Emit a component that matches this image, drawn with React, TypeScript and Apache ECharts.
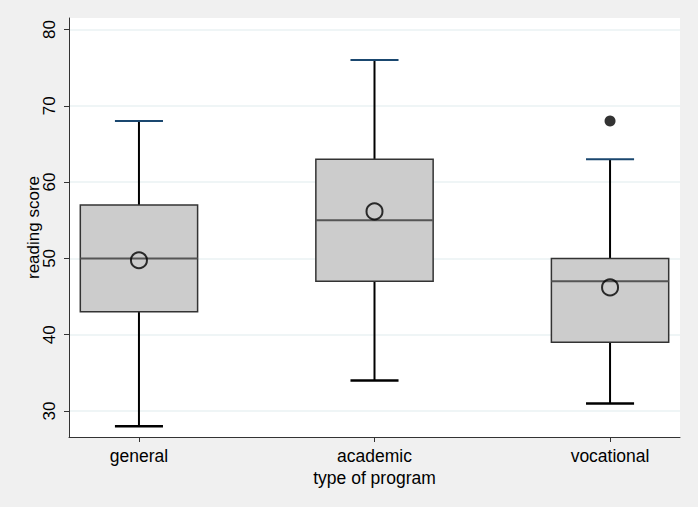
import React, { useEffect, useRef } from "react";
import * as echarts from "echarts";

const categories = ["general", "academic", "vocational"];
// [min, q1, median, q3, max]
const boxValues = [
  [28, 43, 50, 57, 68],
  [34, 47, 55, 63, 76],
  [31, 39, 47, 50, 63],
];
const means = [49.76, 56.16, 46.2];
const outliers = [[3, 68]];
const yTicks = [30, 40, 50, 60, 70, 80];

export default function App() {
  const ref = useRef<HTMLDivElement>(null);
  useEffect(() => {
    if (!ref.current) return;
    const chart = echarts.init(ref.current, null, { renderer: "svg" });
    const font = "'Liberation Sans', Arial, sans-serif";
    const boxData = boxValues.map((b, i) => [i + 1, ...b]);
    const meanData = means.map((m, i) => [i + 1, m]);
    chart.setOption({
      animation: false,
      backgroundColor: "#f0f0f0",
      textStyle: { fontFamily: font },
      grid: {
        left: 69,
        right: 18,
        top: 18,
        bottom: 70,
        show: true,
        backgroundColor: "#ffffff",
        borderWidth: 0,
      },
      xAxis: {
        type: "value",
        min: 0.703,
        max: 3.297,
        name: "type of program",
        nameLocation: "middle",
        nameGap: 32,
        nameMoveOverlap: false,
        nameTextStyle: { color: "#000", fontSize: 17.5, lineHeight: 18, fontFamily: font },
        axisLine: { show: true, lineStyle: { color: "#333", width: 1 } },
        axisTick: {
          show: true,
          length: 5,
          customValues: [1, 2, 3],
          lineStyle: { color: "#333" },
        },
        axisLabel: {
          customValues: [1, 2, 3],
          formatter: (v: number) => categories[Math.round(v) - 1] ?? "",
          color: "#000",
          fontSize: 17.5,
          lineHeight: 18,
          fontFamily: font,
          margin: 10,
        },
        splitLine: { show: false },
      },
      yAxis: {
        type: "value",
        min: 26.6,
        max: 81.5,
        name: "reading score",
        nameLocation: "middle",
        nameGap: 27,
        nameMoveOverlap: false,
        nameTextStyle: { color: "#000", fontSize: 17, fontFamily: font },
        axisLine: { show: true, lineStyle: { color: "#333", width: 1 } },
        axisTick: {
          show: true,
          length: 5,
          customValues: yTicks,
          lineStyle: { color: "#333" },
        },
        axisLabel: {
          customValues: yTicks,
          rotate: 90,
          color: "#000",
          fontSize: 17,
          fontFamily: font,
          margin: 11,
        },
        splitLine: { show: true, lineStyle: { color: "#eaf2f3", width: 1.5 } },
      },
      series: [
        {
          type: "custom",
          data: boxData,
          encode: { x: 0, y: [1, 2, 3, 4, 5] },
          renderItem: (params: any, api: any) => {
            const x = api.value(0);
            const mn = api.value(1);
            const q1 = api.value(2);
            const md = api.value(3);
            const q3 = api.value(4);
            const mx = api.value(5);
            const hw = 0.249;
            const cw = 0.102;
            const pMax = api.coord([x, mx]);
            const pQ3 = api.coord([x, q3]);
            const pQ1 = api.coord([x, q1]);
            const pMin = api.coord([x, mn]);
            const bl = api.coord([x - hw, q3]);
            const br = api.coord([x + hw, q1]);
            const ml = api.coord([x - hw, md]);
            const mr = api.coord([x + hw, md]);
            const cul = api.coord([x - cw, mx]);
            const cur = api.coord([x + cw, mx]);
            const cll = api.coord([x - cw, mn]);
            const clr = api.coord([x + cw, mn]);
            return {
              type: "group",
              children: [
                {
                  type: "line",
                  shape: { x1: pMax[0], y1: pMax[1], x2: pQ3[0], y2: pQ3[1] },
                  style: { stroke: "#000", lineWidth: 2 },
                },
                {
                  type: "line",
                  shape: { x1: pQ1[0], y1: pQ1[1], x2: pMin[0], y2: pMin[1] },
                  style: { stroke: "#000", lineWidth: 2 },
                },
                {
                  type: "rect",
                  shape: {
                    x: bl[0],
                    y: bl[1],
                    width: br[0] - bl[0],
                    height: br[1] - bl[1],
                  },
                  style: { fill: "#cccccc", stroke: "#333", lineWidth: 1.5 },
                },
                {
                  type: "line",
                  shape: { x1: ml[0], y1: ml[1], x2: mr[0], y2: mr[1] },
                  style: { stroke: "#555", lineWidth: 2 },
                },
                {
                  type: "line",
                  shape: { x1: cul[0], y1: cul[1], x2: cur[0], y2: cur[1] },
                  style: { stroke: "#1a476f", lineWidth: 2 },
                },
                {
                  type: "line",
                  shape: { x1: cll[0], y1: cll[1], x2: clr[0], y2: clr[1] },
                  style: { stroke: "#000", lineWidth: 2.5 },
                },
              ],
            };
          },
        },
        {
          type: "scatter",
          data: meanData,
          symbol: "circle",
          symbolSize: 16,
          itemStyle: { color: "rgba(0,0,0,0)", borderColor: "#000", borderWidth: 2 },
          z: 5,
        },
        {
          type: "scatter",
          data: outliers,
          symbol: "circle",
          symbolSize: 11,
          itemStyle: { color: "#000" },
          z: 5,
        },
      ],
    });
    return () => chart.dispose();
  }, []);
  return (
    <div
      ref={ref}
      style={{ position: "absolute", left: 0, top: 0, width: 698, height: 507 }}
    />
  );
}
